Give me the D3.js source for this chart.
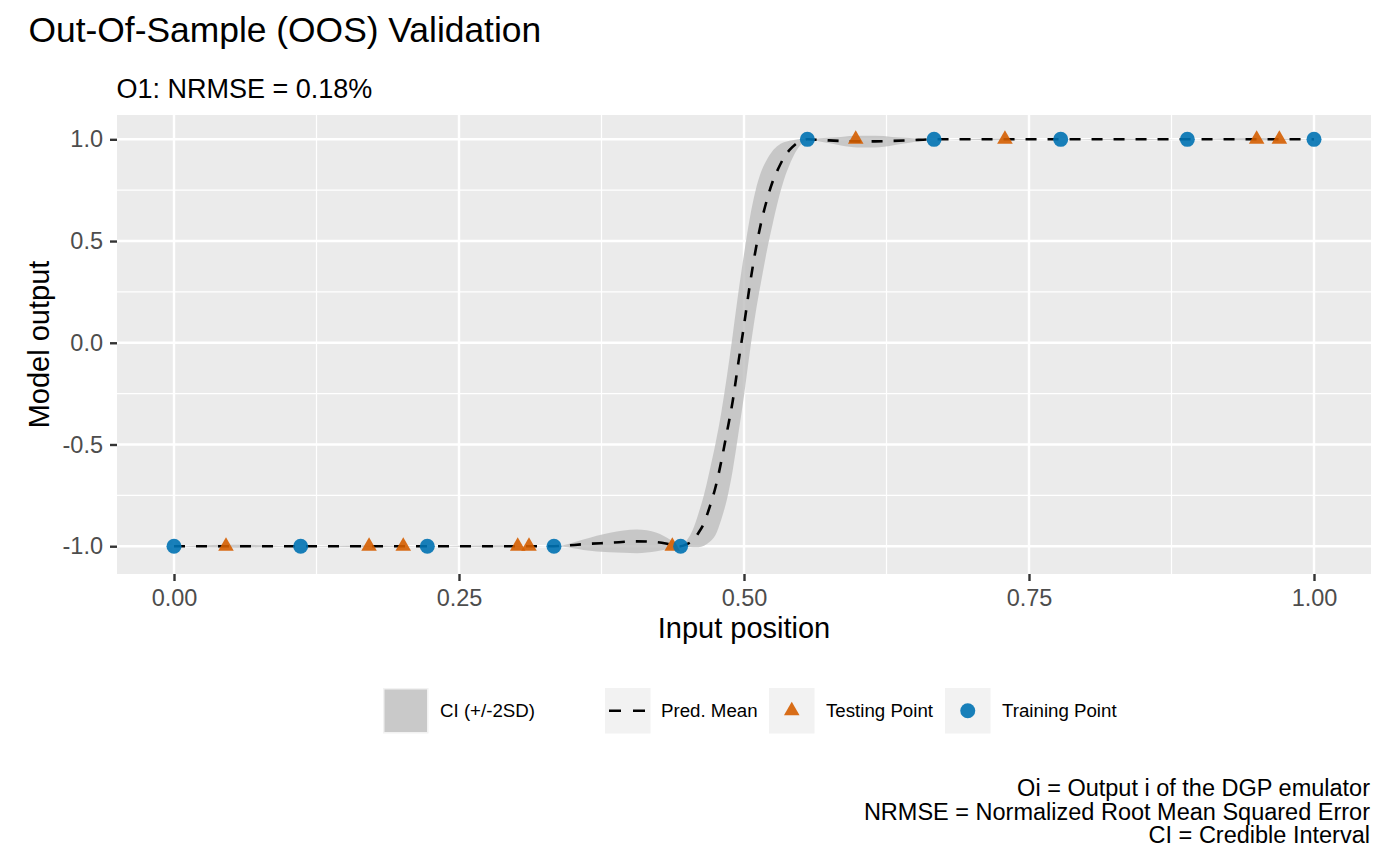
<!DOCTYPE html>
<html>
<head>
<meta charset="utf-8">
<script src="https://cdn.jsdelivr.net/npm/d3@7"></script>
<style>
  body { margin: 0; background: #ffffff; }
  text { font-family: "Liberation Sans", Arial, Helvetica, sans-serif; }
</style>
</head>
<body>
<div id="chart"></div>
<script>
// values
const pred_x = [0, 0.0556, 0.1111, 0.1667, 0.2222, 0.2778, 0.3333, 0.3415, 0.359, 0.3825,
  0.406, 0.4234, 0.435, 0.4444, 0.450, 0.455, 0.460, 0.465, 0.470, 0.475,
  0.480, 0.485, 0.490, 0.495, 0.500, 0.505, 0.510, 0.515, 0.520, 0.525,
  0.530, 0.535, 0.540, 0.545, 0.550, 0.5556, 0.570, 0.585, 0.600, 0.615,
  0.630, 0.645, 0.6667, 0.7222, 0.7778, 0.8333, 0.8889, 0.9444, 1.0];
const pred_mean = [-1, -1, -1, -1, -1, -1, -1, -0.998, -0.99, -0.983,
  -0.976, -0.98, -0.99, -1, -0.99, -0.972, -0.935, -0.885, -0.805, -0.71,
  -0.585, -0.44, -0.29, -0.10, 0.085, 0.28, 0.45, 0.59, 0.70, 0.79,
  0.855, 0.91, 0.948, 0.975, 0.992, 1.0, 0.996, 0.992, 0.99, 0.99,
  0.992, 0.995, 1, 1, 1, 1, 1, 1, 1];
const ci_lower = [-1, -1.007, -1, -1.005, -1, -1.005, -1, -1.003, -1.018, -1.03,
  -1.034, -1.025, -1.013, -1, -1.003, -1.005, -1.005, -0.998, -0.978, -0.945,
  -0.87, -0.77, -0.63, -0.45, -0.26, -0.05, 0.14, 0.30, 0.45, 0.58,
  0.70, 0.80, 0.875, 0.935, 0.975, 1.0, 0.985, 0.97, 0.96, 0.96,
  0.97, 0.983, 1, 0.996, 1, 0.996, 1, 0.994, 1];
const ci_upper = [-1, -0.993, -1, -0.995, -1, -0.995, -1, -0.995, -0.967, -0.934,
  -0.918, -0.934, -0.967, -1, -0.97, -0.92, -0.84, -0.745, -0.625, -0.495,
  -0.345, -0.165, 0.035, 0.245, 0.435, 0.61, 0.745, 0.84, 0.90, 0.943,
  0.97, 0.985, 0.993, 0.998, 1.0, 1.0, 1.006, 1.012, 1.017, 1.017,
  1.012, 1.006, 1, 1.004, 1, 1.004, 1, 1.006, 1];

const train_x = [0, 0.1111, 0.2222, 0.3333, 0.4444, 0.5556, 0.6667, 0.7778, 0.8889, 1.0];
const train_y = [-1, -1, -1, -1, -1, 1, 1, 1, 1, 1];
const test_x = [0.0456, 0.1711, 0.2011, 0.3015, 0.3114, 0.4371, 0.598, 0.7289, 0.9497, 0.9696];
const test_y = [-1, -1, -1, -1, -1, -1, 1, 1, 1, 1];

const x_ticks = [0, 0.25, 0.5, 0.75, 1];
const x_tick_labels = ["0.00", "0.25", "0.50", "0.75", "1.00"];
const x_minor = [0.125, 0.375, 0.625, 0.875];
const y_ticks = [-1, -0.5, 0, 0.5, 1];
const y_tick_labels = ["-1.0", "-0.5", "0.0", "0.5", "1.0"];
const y_minor = [-0.75, -0.25, 0.25, 0.75];

const legend_labels = ["CI (+/-2SD)", "Pred. Mean", "Testing Point", "Training Point"];
const caption_lines = [
  "Oi = Output i of the DGP emulator",
  "NRMSE = Normalized Root Mean Squared Error",
  "CI = Credible Interval"
];

const chart_visualizer = {
  width:  1400,
  height: 865,
  panel: {
    left:   117,
    right:  1371,
    top:    115,
    bottom: 574
  }
};

const colours = {
  panel:  "#EBEBEB",
  grid:   "#FFFFFF",
  ribbon: "#BEBEBE",
  train:  "#0072B2",
  test:   "#D55E00",
  key:    "#F2F2F2"
};

function expand(extent) {
  const pad = (extent[1] - extent[0]) * 0.05;
  return [extent[0] - pad, extent[1] + pad];
}

function create_svg(tag, dimensions) {
  return d3.select(tag)
    .append("svg")
      .attr("width", dimensions.width)
      .attr("height", dimensions.height)
      .attr("id", `svg-${tag.replace("#", "")}`);
}

function draw_chart(svg, dims) {
  const p = dims.panel;
  const x = d3.scaleLinear()
    .domain(expand(d3.extent(pred_x)))
    .range([p.left, p.right]);
  const y = d3.scaleLinear()
    .domain(expand([d3.min(ci_lower), d3.max(ci_upper)]))
    .range([p.bottom, p.top]);

  // panel + grid
  svg.append("rect")
    .attr("x", p.left).attr("y", p.top)
    .attr("width", p.right - p.left).attr("height", p.bottom - p.top)
    .attr("fill", colours.panel);

  const grid = svg.append("g").attr("class", "grid");
  grid.selectAll(".xminor").data(x_minor).join("line")
    .attr("x1", d => x(d)).attr("x2", d => x(d))
    .attr("y1", p.top).attr("y2", p.bottom)
    .attr("stroke", colours.grid).attr("stroke-width", 1.2);
  grid.selectAll(".yminor").data(y_minor).join("line")
    .attr("y1", d => y(d)).attr("y2", d => y(d))
    .attr("x1", p.left).attr("x2", p.right)
    .attr("stroke", colours.grid).attr("stroke-width", 1.2);
  grid.selectAll(".xmajor").data(x_ticks).join("line")
    .attr("x1", d => x(d)).attr("x2", d => x(d))
    .attr("y1", p.top).attr("y2", p.bottom)
    .attr("stroke", colours.grid).attr("stroke-width", 2.4);
  grid.selectAll(".ymajor").data(y_ticks).join("line")
    .attr("y1", d => y(d)).attr("y2", d => y(d))
    .attr("x1", p.left).attr("x2", p.right)
    .attr("stroke", colours.grid).attr("stroke-width", 2.4);

  const rows = pred_x.map((d, i) => ({x: d, mean: pred_mean[i], lo: ci_lower[i], hi: ci_upper[i]}));

  // ribbon
  const area = d3.area()
    .x(d => x(d.x))
    .y0(d => y(d.lo))
    .y1(d => y(d.hi))
    .curve(d3.curveMonotoneX);
  svg.append("path")
    .datum(rows)
    .attr("d", area)
    .attr("fill", colours.ribbon)
    .attr("fill-opacity", 0.8);

  // predicted mean
  const line = d3.line()
    .x(d => x(d.x))
    .y(d => y(d.mean))
    .curve(d3.curveMonotoneX);
  svg.append("path")
    .datum(rows)
    .attr("d", line)
    .attr("fill", "none")
    .attr("stroke", "#000000")
    .attr("stroke-width", 2.6)
    .attr("stroke-dasharray", "11,11");

  // points
  const tri = d3.symbol().type(d3.symbolTriangle).size(105);
  svg.append("g").selectAll("path")
    .data(test_x.map((d, i) => [d, test_y[i]]))
    .join("path")
      .attr("d", tri)
      .attr("transform", d => `translate(${x(d[0])},${y(d[1])})`)
      .attr("fill", colours.test)
      .attr("fill-opacity", 0.9);
  svg.append("g").selectAll("circle")
    .data(train_x.map((d, i) => [d, train_y[i]]))
    .join("circle")
      .attr("cx", d => x(d[0]))
      .attr("cy", d => y(d[1]))
      .attr("r", 7.5)
      .attr("fill", colours.train)
      .attr("fill-opacity", 0.9);

  // axes
  const x_axis = svg.append("g")
    .attr("transform", `translate(0,${p.bottom})`)
    .call(d3.axisBottom(x).tickValues(x_ticks)
      .tickFormat((d, i) => x_tick_labels[i]).tickSize(7).tickPadding(8));
  const y_axis = svg.append("g")
    .attr("transform", `translate(${p.left},0)`)
    .call(d3.axisLeft(y).tickValues(y_ticks)
      .tickFormat((d, i) => y_tick_labels[i]).tickSize(7).tickPadding(7));
  [x_axis, y_axis].forEach(a => {
    a.select(".domain").remove();
    a.selectAll(".tick line").attr("stroke", "#333333").attr("stroke-width", 2.4);
    a.selectAll(".tick text")
      .attr("fill", "#4D4D4D")
      .style("font-size", "23.5px")
      .style("font-family", "'Liberation Sans', Arial, sans-serif");
  });

  // titles
  svg.append("text")
    .attr("x", 28.5).attr("y", 42)
    .style("font-size", "35.4px")
    .text("Out-Of-Sample (OOS) Validation");
  svg.append("text")
    .attr("x", 116.5).attr("y", 98)
    .style("font-size", "27px")
    .text("O1: NRMSE = 0.18%");
  svg.append("text")
    .attr("x", (p.left + p.right) / 2).attr("y", 638)
    .attr("text-anchor", "middle")
    .style("font-size", "29px")
    .text("Input position");
  svg.append("text")
    .attr("transform", `translate(49,${(p.top + p.bottom) / 2}) rotate(-90)`)
    .attr("text-anchor", "middle")
    .style("font-size", "29px")
    .text("Model output");

  // caption
  svg.append("g").selectAll("text")
    .data(caption_lines)
    .join("text")
      .attr("x", 1370)
      .attr("y", (d, i) => 796 + i * 23.5)
      .attr("text-anchor", "end")
      .style("font-size", "23.5px")
      .text(d => d);

  draw_legend(svg);
}

function draw_legend(svg) {
  const key_x = [383, 605, 769, 945],
        label_x = [440, 661, 826, 1002],
        key_y = 688,
        key_size = 45.5,
        mid_y = key_y + key_size / 2;

  const legend = svg.append("g").attr("class", "legend");
  legend.selectAll("rect.key")
    .data(key_x)
    .join("rect")
      .attr("class", "key")
      .attr("x", d => d).attr("y", key_y)
      .attr("width", key_size).attr("height", key_size)
      .attr("fill", colours.key);

  legend.append("rect")
    .attr("x", key_x[0] + 1.5).attr("y", key_y + 1.5)
    .attr("width", key_size - 3).attr("height", key_size - 3)
    .attr("fill", colours.ribbon)
    .attr("fill-opacity", 0.8);

  legend.append("line")
    .attr("x1", key_x[1] + 4).attr("x2", key_x[1] + 41.5)
    .attr("y1", mid_y).attr("y2", mid_y)
    .attr("stroke", "#000000")
    .attr("stroke-width", 2.6)
    .attr("stroke-dasharray", "12,12");

  legend.append("path")
    .attr("d", d3.symbol().type(d3.symbolTriangle).size(105))
    .attr("transform", `translate(${key_x[2] + key_size / 2},${mid_y})`)
    .attr("fill", colours.test)
    .attr("fill-opacity", 0.9);

  legend.append("circle")
    .attr("cx", key_x[3] + key_size / 2).attr("cy", mid_y)
    .attr("r", 7.5)
    .attr("fill", colours.train)
    .attr("fill-opacity", 0.9);

  legend.selectAll("text")
    .data(legend_labels)
    .join("text")
      .attr("x", (d, i) => label_x[i])
      .attr("y", mid_y + 6.7)
      .style("font-size", "18.7px")
      .text(d => d);
}

const chart_svg = create_svg("#chart", chart_visualizer);
draw_chart(chart_svg, chart_visualizer);
</script>
</body>
</html>
